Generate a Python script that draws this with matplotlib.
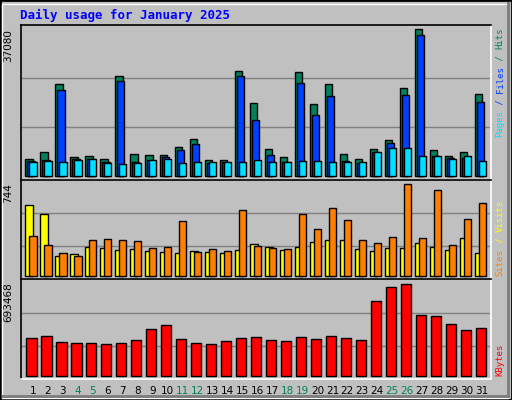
import matplotlib
matplotlib.use("Agg")
import matplotlib.pyplot as plt
from matplotlib.patches import Rectangle
import numpy as np

days = list(range(1, 32))
weekend_days = [4, 5, 11, 12, 18, 19, 25, 26]
hits = [4290, 6050, 23210, 4790, 5045, 4290, 25220, 5550, 5300, 5300, 7315, 9330, 4035, 4035, 26490, 18410,
        6810, 4790, 26230, 18160, 23210, 5550, 4290, 6810, 9080, 22200, 37080, 6560, 5045, 6050, 20680]
files = [3780, 4035, 21690, 4290, 4290, 3530, 23960, 3530, 4035, 4790, 6560, 8070, 3280, 3530, 25220, 14125,
         5300, 3530, 23460, 15390, 20180, 3780, 3280, 6050, 8320, 20430, 35570, 5045, 4540, 4540, 18665]
pages = [3530, 3780, 3530, 4035, 4290, 3280, 3030, 3280, 4035, 4290, 3280, 3530, 3530, 3530, 3530, 4035,
         3530, 3530, 3780, 3780, 3530, 3530, 3530, 6050, 7060, 7060, 5045, 5045, 4290, 5045, 3780]
visits = [574, 501, 162, 178, 235, 226, 210, 218, 202, 194, 186, 202, 194, 186, 210, 259,
          235, 210, 235, 275, 291, 291, 218, 202, 226, 226, 267, 235, 210, 307, 186]
sites = [323, 251, 186, 162, 291, 299, 291, 283, 226, 235, 445, 194, 218, 202, 534, 243,
         226, 218, 501, 380, 550, 453, 291, 267, 315, 744, 307, 695, 251, 461, 590]
kbytes = [283460, 298650, 253090, 245500, 245500, 237900, 245500, 268280, 351800, 382170, 275870, 245500,
          237900, 260690, 283460, 291050, 268280, 260690, 291050, 275870, 298650, 283460, 268280, 564390,
          670690, 693468, 458100, 450500, 389760, 344200, 359390]
title = "Daily usage for January 2025"

W, H = 512, 400
BG = "#C0C0C0"
fig = plt.figure(figsize=(W / 100, H / 100), dpi=100, facecolor=BG)

def ax_at(x0, y0, x1, y1):
    return fig.add_axes([x0 / W, 1 - y1 / H, (x1 - x0) / W, (y1 - y0) / H])

# outer 3D border
fig.patches.append(Rectangle((0, 0), 1, 1, transform=fig.transFigure, fill=False, ec="black", lw=2))
fig.patches.append(Rectangle((2 / W, 2 / H), 1 - 6 / W, 1 - 6 / H, transform=fig.transFigure,
                             fill=False, ec="white", lw=1))
fig.patches.append(Rectangle((507 / W, 2 / H), 3 / W, 1 - 4 / H, transform=fig.transFigure,
                             color="#808080", lw=0))
fig.patches.append(Rectangle((2 / W, 2 / H), 1 - 4 / W, 3 / H, transform=fig.transFigure,
                             color="#808080", lw=0))

fig.text(20 / W, 1 - 15 / H, title, color="#0000FF", fontsize=9, fontweight="bold",
         family="DejaVu Sans Mono", va="center", ha="left")

XL = (0.19, 0.19 + 471 / 15)
d = np.array(days)

def style(ax, ylim, grids):
    ax.set_facecolor(BG)
    ax.set_xlim(*XL)
    ax.set_ylim(*ylim)
    for g in grids:
        ax.axhline(g, color="#808080", lw=1, zorder=0)
    ax.set_xticks([])
    ax.set_yticks([])
    for s in ["top", "left"]:
        ax.spines[s].set_color("black")
    for s in ["bottom", "right"]:
        ax.spines[s].set_color("white")
    for s in ax.spines.values():
        s.set_linewidth(1.2)

kw = dict(align="edge", edgecolor="black", linewidth=1)

ax1 = ax_at(20.7, 24.7, 491, 179.7)
style(ax1, (-858, 38240), [12360, 24720])
ax1.bar(d - 0.50, hits, 0.49, color="#00805C", **kw)
ax1.bar(d - 0.37, files, 0.49, color="#0040FF", **kw)
ax1.bar(d - 0.24, pages, 0.49, color="#00E0FF", **kw)

ax2 = ax_at(20.7, 179.7, 491, 279.3)
style(ax2, (-24, 779), [243, 509])
ax2.bar(d - 0.50, visits, 0.52, color="#FFFF00", **kw)
ax2.bar(d - 0.24, sites, 0.49, color="#FF8000", **kw)

ax3 = ax_at(20.7, 279.3, 491, 379)
style(ax3, (-25000, 731400), [227600, 473400])
ax3.bar(d - 0.44, kbytes, 0.69, color="#FF0000", **kw)

for dd in days:
    col = "#00805C" if dd in weekend_days else "black"
    ax3.text(dd, -0.12, str(dd), transform=ax3.get_xaxis_transform(), ha="center", va="center",
             fontsize=7.5, color=col)

for ax, val in [(ax1, max(hits)), (ax2, max(sites)), (ax3, max(kbytes))]:
    ax.text(-0.016, 0.97, str(val), transform=ax.transAxes, rotation=90, ha="right", va="top",
            fontsize=7.5, color="black")

def vlabel(parts, y_bottom_px, x_px=500, step=5.5):
    y = y_bottom_px
    for txt, col in parts:
        fig.text(x_px / W, 1 - y / H, txt, rotation=90, ha="center", va="bottom", color=col,
                 fontsize=6.5, family="DejaVu Sans Mono")
        y -= step * len(txt)

vlabel([("Pages", "#00E0FF"), (" / ", "#0040FF"), ("Files", "#0040FF"), (" / ", "#00805C"),
        ("Hits", "#00805C")], 137)
vlabel([("Sites", "#FF8000"), (" / ", "#FFFF00"), ("Visits", "#FFFF00")], 276)
vlabel([("KBytes", "#FF0000")], 376)

fig.savefig("out.png", dpi=100, facecolor=BG)
